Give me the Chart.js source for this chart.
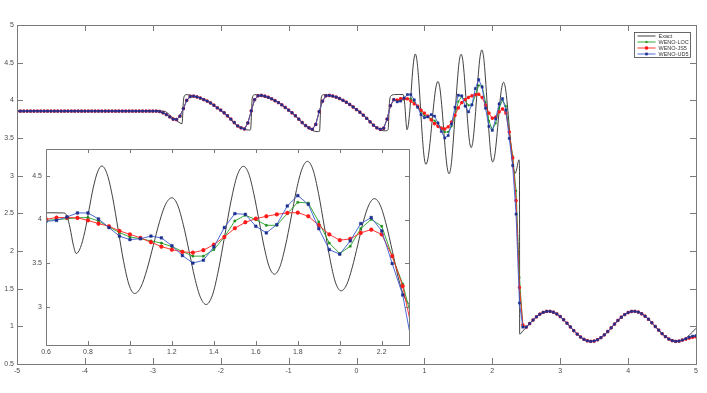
<!DOCTYPE html>
<html>
<head>
<meta charset="utf-8">
<script src="https://cdn.jsdelivr.net/npm/chart.js@4.4.1/dist/chart.umd.min.js"></script>
<style>
  html, body { margin: 0; padding: 0; background: #fff; }
  #wrap { position: relative; width: 707px; height: 393px; }
  #main { position: absolute; left: 0; top: 0; }
  #inset { position: absolute; left: 20px; top: 140px; }
</style>
</head>
<body>
<div id="wrap">
  <canvas id="main" width="707" height="393"></canvas>
  <canvas id="inset" width="400" height="220"></canvas>
</div>
<script>
// grille des schemas numeriques : x = -5 ... 5, pas 0.05 (201 points)
const gridX = [];
for (let i = 0; i <= 200; i++) gridX.push(Math.round((-5 + i * 0.05) * 100) / 100);

// tick labels
const mainXTicks = [-5, -4, -3, -2, -1, 0, 1, 2, 3, 4, 5];
const mainYTicks = [0.5, 1, 1.5, 2, 2.5, 3, 3.5, 4, 4.5, 5];
const insetXTicks = [0.6, 0.8, 1, 1.2, 1.4, 1.6, 1.8, 2, 2.2];
const insetYTicks = [3, 3.5, 4, 4.5];

// partie commune des trois schemas, x = -5 ... 0.55
const numLeft = [
  3.857, 3.857, 3.857, 3.857, 3.857, 3.857, 3.857, 3.857, 3.857, 3.857,
  3.857, 3.857, 3.857, 3.857, 3.857, 3.857, 3.857, 3.857, 3.857, 3.857,
  3.857, 3.857, 3.857, 3.857, 3.857, 3.857, 3.857, 3.857, 3.857, 3.857,
  3.857, 3.857, 3.857, 3.857, 3.857, 3.857, 3.857, 3.857, 3.857, 3.857,
  3.857,
  3.857, 3.852, 3.835, 3.81, 3.78, 3.75, 3.745, 3.79, 3.89, 4.00,
  4.05, 4.055, 4.045, 4.03, 4.01, 3.99, 3.965, 3.935, 3.90, 3.87,
  3.835, 3.795, 3.75, 3.705, 3.66, 3.635, 3.62, 3.70, 3.86, 4.01,
  4.06, 4.065, 4.055, 4.04, 4.02, 3.995, 3.97, 3.94, 3.905, 3.87,
  3.835, 3.795, 3.75, 3.705, 3.665, 3.635, 3.615, 3.68, 3.85, 3.99,
  4.06, 4.065, 4.057, 4.043, 4.024, 4.0, 3.975, 3.945, 3.912, 3.877,
  3.842, 3.803, 3.76, 3.714, 3.67, 3.635, 3.615, 3.63, 3.75, 3.93,
  4.01
];

// zone oscillante, x = 0.6 ... 2.5
const locMid = [
  3.99, 4.0, 4.01, 4.02, 4.023, 3.984, 3.916, 3.85, 3.80, 3.78,
  3.755, 3.73, 3.69, 3.633, 3.58, 3.58, 3.655, 3.80, 3.984, 4.05,
  3.999, 3.934, 3.934, 4.068, 4.198, 4.19, 3.973, 3.73, 3.61, 3.694,
  3.896, 4.003, 3.923, 3.58, 3.26, 2.80, 1.649, 1.0, 0.99
];
const js5Mid = [
  4.003, 4.023, 4.023, 4.02, 3.99, 3.954, 3.923, 3.87, 3.83, 3.79,
  3.74, 3.69, 3.655, 3.63, 3.62, 3.648, 3.713, 3.80, 3.90, 3.969,
  4.01, 4.038, 4.06, 4.076, 4.08, 4.038, 3.935, 3.83, 3.763, 3.778,
  3.847, 3.885, 3.83, 3.58, 3.235, 2.67, 1.516, 1.02, 0.99
];
const ud5Mid = [
  3.98, 3.99, 4.03, 4.076, 4.076, 4.007, 3.908, 3.81, 3.77, 3.78,
  3.81, 3.79, 3.70, 3.587, 3.50, 3.533, 3.686, 3.908, 4.068, 4.06,
  3.923, 3.847, 3.942, 4.156, 4.275, 4.175, 3.896, 3.655, 3.602, 3.755,
  3.954, 4.023, 3.87, 3.495, 3.135, 2.49, 1.309, 0.99, 0.99
];

// apres le choc, x = 2.55 ... 4.8 (commun)
const numRight = [
  1.037, 1.084, 1.126, 1.161, 1.185, 1.198, 1.199, 1.187, 1.164, 1.130,
  1.088, 1.041, 0.992, 0.942, 0.897, 0.858, 0.827, 0.808, 0.800, 0.805,
  0.822, 0.850, 0.886, 0.931, 0.980, 1.030, 1.078, 1.121, 1.156, 1.183,
  1.197, 1.199, 1.189, 1.167, 1.134, 1.094, 1.047, 0.998, 0.950, 0.903,
  0.863, 0.831, 0.810, 0.800, 0.804, 0.818
];

// bord droit, x = 4.85 ... 5
const locTail = [0.83, 0.85, 0.865, 0.87];
const js5Tail = [0.83, 0.845, 0.855, 0.86];
const ud5Tail = [0.835, 0.855, 0.87, 0.875];

// solution exacte (reference)
const exactXLeft = [
  -5.0, -2.84, -2.72, -2.60, -2.57, -2.545, -2.51, -2.45, -2.36, -2.26,
  -2.16, -2.06, -1.96, -1.86, -1.76, -1.66, -1.59, -1.56, -1.535, -1.50,
  -1.44, -1.35, -1.25, -1.15, -1.05, -0.95, -0.85, -0.75, -0.65, -0.58,
  -0.545, -0.52, -0.485, -0.425, -0.335, -0.235, -0.135, -0.035, 0.065, 0.165,
  0.265, 0.36, 0.43, 0.465, 0.485, 0.51, 0.56, 0.62, 0.684, 0.700,
  0.715, 0.730, 0.744, 0.764, 0.785, 0.805, 0.825, 0.846, 0.866, 0.892,
  0.918, 0.944, 0.970, 0.996, 1.022, 1.052, 1.081, 1.111, 1.141, 1.170,
  1.200, 1.227, 1.254, 1.282, 1.309, 1.336, 1.363, 1.393, 1.422, 1.452,
  1.482, 1.511, 1.541, 1.566, 1.590, 1.615, 1.640, 1.664, 1.689, 1.715,
  1.741, 1.768, 1.794, 1.820, 1.846, 1.873, 1.899, 1.926, 1.953, 1.979,
  2.006, 2.033, 2.059, 2.086, 2.112, 2.139, 2.165, 2.194, 2.222, 2.251,
  2.279, 2.308, 2.336, 2.360, 2.380, 2.392, 2.400, 2.403, 2.45, 2.50
];
const exactYLeft = [
  3.857, 3.857, 3.78, 3.70, 3.69, 4.03, 4.075, 4.07, 4.05, 4.02,
  3.97, 3.905, 3.835, 3.75, 3.66, 3.62, 3.605, 3.61, 4.03, 4.075,
  4.07, 4.05, 4.02, 3.97, 3.905, 3.835, 3.75, 3.66, 3.60, 3.585,
  3.59, 4.03, 4.075, 4.07, 4.05, 4.02, 3.97, 3.905, 3.835, 3.75,
  3.66, 3.605, 3.595, 3.61, 3.97, 4.06, 4.076, 4.078, 4.076, 4.04,
  3.90, 3.71, 3.61, 3.677, 3.861, 4.1125, 4.364, 4.548, 4.615, 4.517,
  4.249, 3.883, 3.517, 3.249, 3.151, 3.225, 3.426, 3.70, 3.975, 4.176,
  4.25, 4.168, 3.944, 3.6375, 3.331, 3.107, 3.025, 3.131, 3.4215, 3.818,
  4.2145, 4.505, 4.611, 4.528, 4.3015, 3.992, 3.6825, 3.456, 3.373, 3.460,
  3.697, 4.0205, 4.344, 4.581, 4.668, 4.568, 4.2965, 3.925, 3.5535, 3.282,
  3.182, 3.253, 3.4465, 3.711, 3.9755, 4.169, 4.24, 4.159, 3.9375, 3.635,
  3.3325, 3.111, 3.03, 3.09, 3.18, 3.21, 3.16, 0.897, 0.938, 0.987
];
const exactTail = [0.845, 0.882, 0.925, 0.974];

const exactX = exactXLeft.concat(gridX.slice(151));
const exactY = exactYLeft.concat(numRight, exactTail);
const locY = numLeft.concat(locMid, numRight, locTail);
const js5Y = numLeft.concat(js5Mid, numRight, js5Tail);
const ud5Y = numLeft.concat(ud5Mid, numRight, ud5Tail);

const pts = (xs, ys) => ys.map((v, i) => ({ x: xs[i], y: v }));

const FONT = "'Liberation Sans', Arial, sans-serif";

function makeDatasets(big) {
  return [
    {
      label: "Exact", data: pts(exactX, exactY),
      borderColor: "#2a2a2a", borderWidth: 0.9, pointRadius: 0,
      cubicInterpolationMode: "monotone", order: 4
    },
    {
      label: "WENO-LOC", data: pts(gridX, locY),
      borderColor: "#22a022", borderWidth: 0.9, tension: 0,
      pointStyle: "rect", pointRadius: big ? 1.4 : 1.0,
      pointBackgroundColor: "#1c8c1c", pointBorderColor: "#1c8c1c", pointBorderWidth: 0.5,
      order: 3
    },
    {
      label: "WENO-JS5", data: pts(gridX, js5Y),
      borderColor: "#ff2020", borderWidth: 0.9, tension: 0,
      pointStyle: "star", pointRadius: big ? 2.1 : 1.7,
      pointBackgroundColor: "#ff1a1a", pointBorderColor: "#ff1a1a", pointBorderWidth: 1.2,
      order: 2
    },
    {
      label: "WENO-UD5", data: pts(gridX, ud5Y),
      borderColor: "#3a5ad0", borderWidth: 0.9, tension: 0,
      pointStyle: "rect", pointRadius: big ? 1.9 : 1.6,
      pointBackgroundColor: "#1d2f8f", pointBorderColor: "#1d2f8f", pointBorderWidth: 0.4,
      order: 1
    }
  ];
}

// cadre facon matlab, ticks vers l'interieur sur les 4 cotes
const boxTicks = {
  id: "boxTicks",
  afterDraw(chart, args, opts) {
    const { ctx, chartArea: a, scales } = chart;
    const len = opts.len || 5;
    ctx.save();
    ctx.strokeStyle = "#7a7a7a";
    ctx.lineWidth = 1;
    ctx.beginPath();
    scales.x.ticks.forEach(t => {
      const px = Math.round(scales.x.getPixelForValue(t.value)) + 0.5;
      ctx.moveTo(px, a.bottom); ctx.lineTo(px, a.bottom - len);
      ctx.moveTo(px, a.top); ctx.lineTo(px, a.top + len);
    });
    scales.y.ticks.forEach(t => {
      const py = Math.round(scales.y.getPixelForValue(t.value)) + 0.5;
      ctx.moveTo(a.left, py); ctx.lineTo(a.left + len, py);
      ctx.moveTo(a.right, py); ctx.lineTo(a.right - len, py);
    });
    ctx.stroke();
    ctx.strokeRect(Math.round(a.left) + 0.5, Math.round(a.top) + 0.5,
      Math.round(a.right - a.left), Math.round(a.bottom - a.top));
    ctx.restore();
  }
};

const whiteArea = {
  id: "whiteArea",
  beforeDraw(chart) {
    const { ctx, chartArea: a } = chart;
    ctx.save();
    ctx.fillStyle = "#fff";
    ctx.fillRect(a.left, a.top, a.right - a.left, a.bottom - a.top);
    ctx.restore();
  }
};

// legende en haut a droite
const boxLegend = {
  id: "boxLegend",
  afterDraw(chart) {
    const ctx = chart.ctx;
    const x0 = 634.5, y0 = 32.5, w = 56, h = 25;
    ctx.save();
    ctx.fillStyle = "#fff";
    ctx.fillRect(x0, y0, w, h);
    ctx.strokeStyle = "#444";
    ctx.lineWidth = 0.8;
    ctx.strokeRect(x0, y0, w, h);
    ctx.font = "5.5px " + FONT;
    ctx.textBaseline = "middle";
    chart.data.datasets.forEach((ds, i) => {
      const yy = y0 + 3.5 + i * 6;
      ctx.strokeStyle = ds.borderColor;
      ctx.lineWidth = 0.9;
      ctx.beginPath();
      ctx.moveTo(x0 + 3, yy); ctx.lineTo(x0 + 21, yy);
      ctx.stroke();
      if (ds.pointRadius) {
        ctx.fillStyle = ds.pointBackgroundColor;
        ctx.strokeStyle = ds.pointBorderColor;
        ctx.lineWidth = ds.pointBorderWidth;
        Chart.helpers.drawPoint(ctx, {
          pointStyle: ds.pointStyle, radius: ds.pointRadius,
          rotation: 0, borderWidth: ds.pointBorderWidth
        }, x0 + 12, yy);
      }
      ctx.fillStyle = "#333";
      ctx.fillText(ds.label, x0 + 24, yy + 0.3);
    });
    ctx.restore();
  }
};

function axisCfg(min, max, tickVals, size, pad) {
  return {
    type: "linear", min: min, max: max,
    grid: { display: false, drawTicks: false },
    border: { display: false },
    afterBuildTicks: s => { s.ticks = tickVals.map(v => ({ value: v })); },
    afterFit: s => { if (s.isHorizontal()) s.height = size; else s.width = size; },
    ticks: {
      padding: pad, color: "#4a4a4a", autoSkip: false, maxRotation: 0,
      font: { size: 7, family: FONT },
      callback: v => String(+Number(v).toFixed(2))
    }
  };
}

new Chart(document.getElementById("main"), {
  type: "line",
  data: { datasets: makeDatasets(false) },
  options: {
    responsive: false, animation: false, devicePixelRatio: 1,
    layout: { padding: { left: 0, right: 11, top: 25, bottom: 0 } },
    plugins: { legend: { display: false }, tooltip: { enabled: false }, boxTicks: { len: 6 } },
    scales: {
      x: axisCfg(-5, 5, mainXTicks, 29, 3),
      y: axisCfg(0.5, 5, mainYTicks, 17, 3)
    }
  },
  plugins: [boxTicks, boxLegend]
});

new Chart(document.getElementById("inset"), {
  type: "line",
  data: { datasets: makeDatasets(true) },
  options: {
    responsive: false, animation: false, devicePixelRatio: 1,
    layout: { padding: { left: 0, right: 11, top: 9, bottom: 0 } },
    plugins: { legend: { display: false }, tooltip: { enabled: false }, boxTicks: { len: 4 } },
    scales: {
      x: axisCfg(0.6, 2.33, insetXTicks, 15, 3),
      y: axisCfg(2.56, 4.81, insetYTicks, 26, 4)
    }
  },
  plugins: [whiteArea, boxTicks]
});
</script>
</body>
</html>
